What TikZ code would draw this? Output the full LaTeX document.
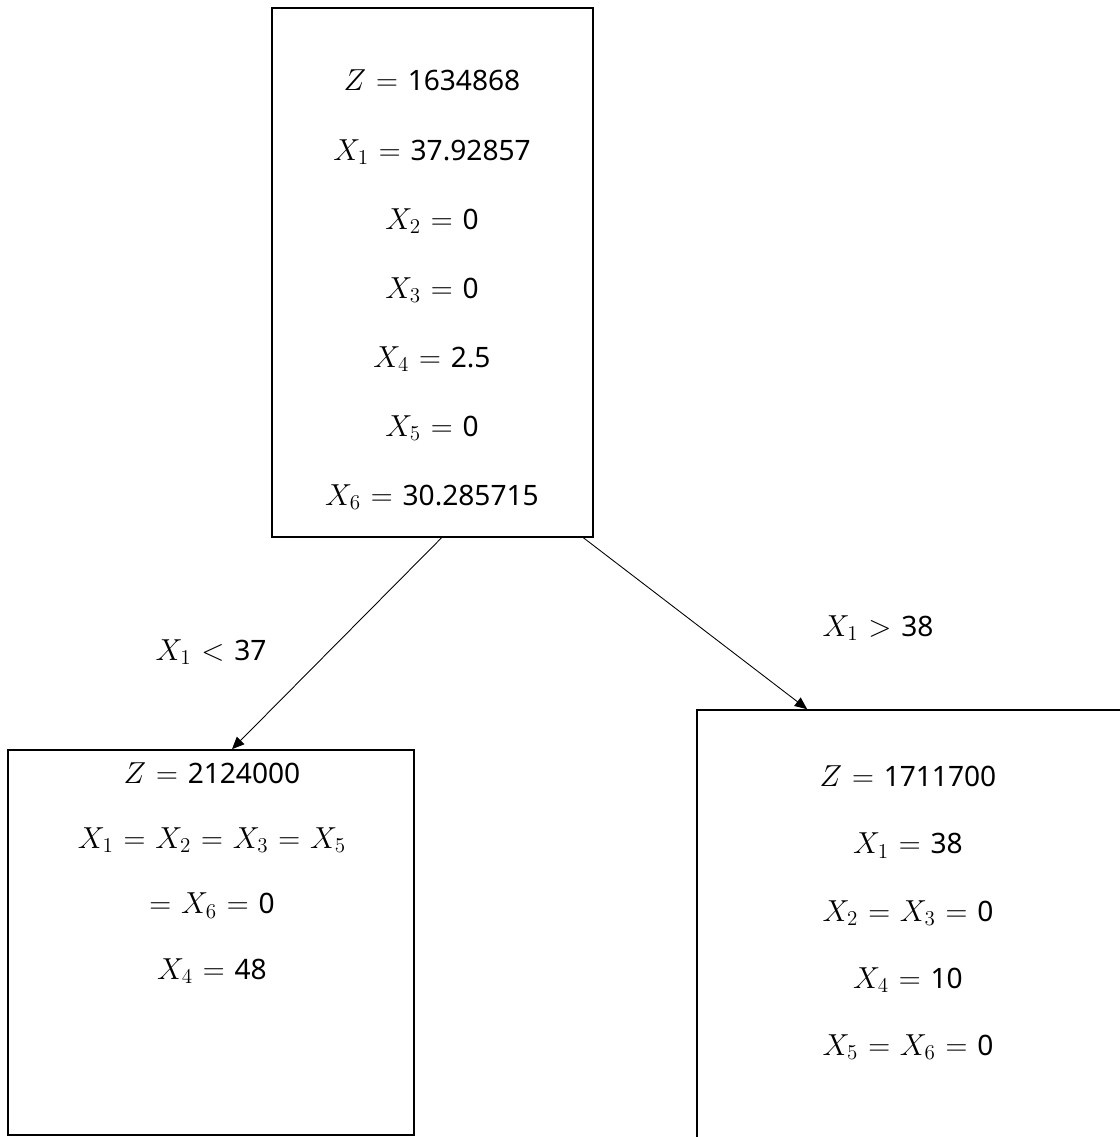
\documentclass[tikz,border=0pt]{standalone}
\usepackage{fontspec}
\setmainfont{Noto Sans}
\usetikzlibrary{arrows.meta,calc}

\newcommand{\xvar}[1]{{\fontsize{18.5}{18.5}\selectfont$X_{#1}$}}
\newcommand{\equ}{\hspace{0.35em}$=$\hspace{0.35em}}

\begin{document}
\begin{tikzpicture}[%
  x = 0.02cm, y = -0.02cm,
  box/.style = {rectangle, draw, line width = 1pt, inner sep = 0pt},
  vals/.style = {align = center, inner sep = 0pt, font = \fontsize{16}{39.3}\selectfont},
  cond/.style = {inner sep = 0pt, font = \fontsize{16}{20}\selectfont},
  branch/.style = {-{Triangle[length = 7pt, width = 6pt]}, line width = 0.5pt}]
  \useasboundingbox (0, 0) rectangle (1120, 1137);

  \node[box, minimum width = 6.42cm, minimum height = 10.58cm] (root) at (432.5, 272.5) {};
  \node[box, minimum width = 8.12cm, minimum height = 7.7cm] (left) at (211, 942.5) {};
  \node[box, minimum width = 8.6cm, minimum height = 8.8cm] (right) at (912, 930) {};

  \node[vals] (roottxt) at (432, 290) {{\fontsize{18.5}{18.5}\selectfont$Z$}\equ 1634868\\
    \xvar{1}\equ 37.92857\\ \xvar{2}\equ 0\\ \xvar{3}\equ 0\\
    \xvar{4}\equ 2.5\\ \xvar{5}\equ 0\\ \xvar{6}\equ 30.285715};
  \node[vals, font = \fontsize{16}{37.2}\selectfont] (lefttxt) at (212, 873)
    {{\fontsize{18.5}{18.5}\selectfont$Z$}\equ 2124000\\
    \xvar{1}\equ\xvar{2}\equ\xvar{3}\equ\xvar{5}\\ $=$\hspace{0.35em}\xvar{6}\equ 0\\ \xvar{4}\equ 48};
  \node[vals, font = \fontsize{16}{38.2}\selectfont] (righttxt) at (908, 913)
    {{\fontsize{18.5}{18.5}\selectfont$Z$}\equ 1711700\\ \xvar{1}\equ 38\\
    \xvar{2}\equ\xvar{3}\equ 0\\ \xvar{4}\equ 10\\ \xvar{5}\equ\xvar{6}\equ 0};

  \draw[branch] ($(root.south) + (9, 0)$) -- ($(left.north) + (21, 0)$);
  \draw[branch] ($(root.south) + (151, 0)$) -- ($(right.north west) + (111, 0)$);

  \node[cond] (lesslbl) at (211, 652) {\xvar{1}\hspace{0.35em}$<$\hspace{0.35em}37};
  \node[cond] (morelbl) at (878, 628) {\xvar{1}\hspace{0.35em}$>$\hspace{0.35em}38};
\end{tikzpicture}
\end{document}
